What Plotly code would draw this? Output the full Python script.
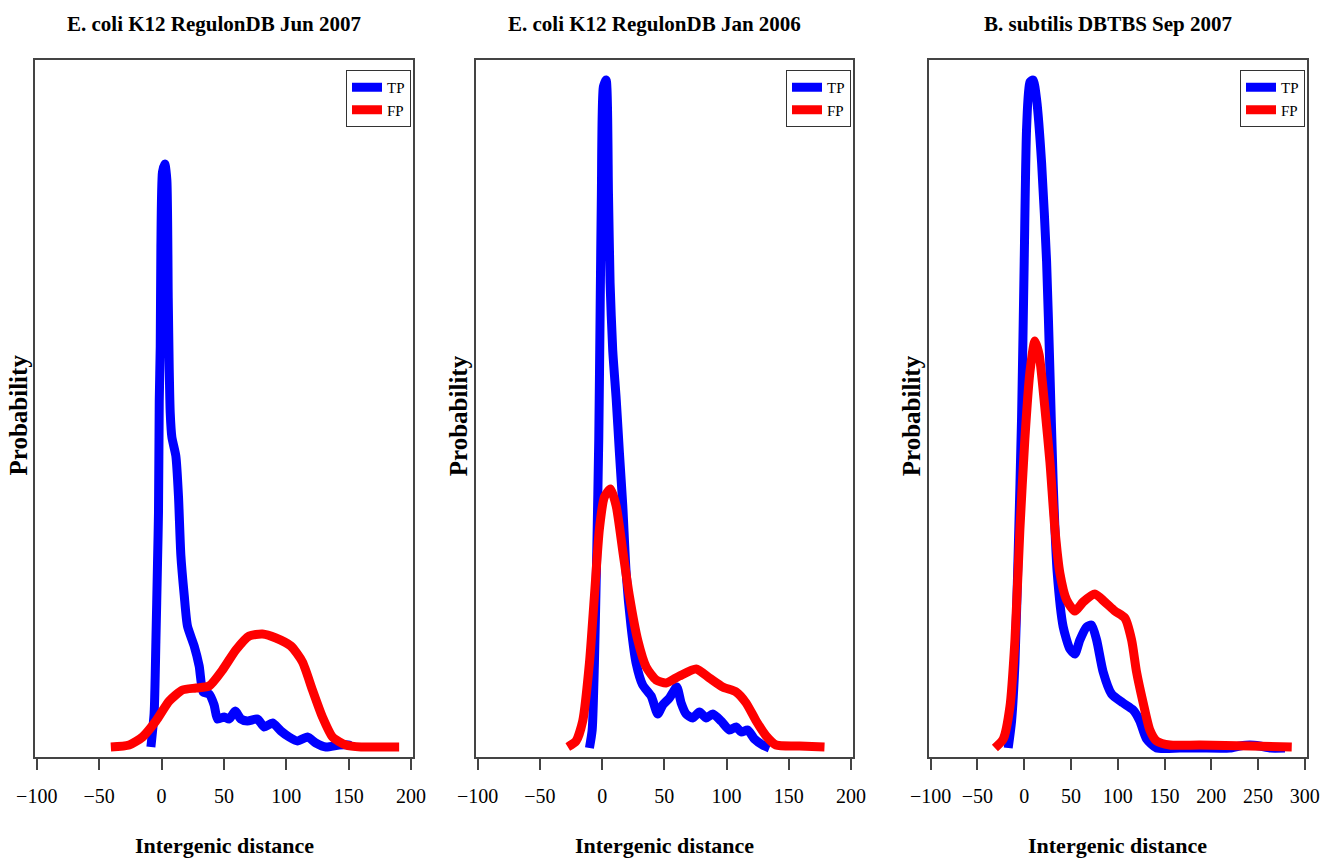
import plotly.graph_objects as go

# ---------------- data ----------------
titles = ["E. coli K12 RegulonDB Jun 2007",
          "E. coli K12 RegulonDB Jan 2006",
          "B. subtilis DBTBS Sep 2007"]
x_label = "Intergenic distance"
y_label = "Probability"
series_names = ["TP", "FP"]

# Panel 1: E. coli K12 RegulonDB Jun 2007
p1_tp_x = [-8.5, -5.9, -4.5, -3.2, -2.4, -1.8, -1.0, -0.5, 0.8, 2.7, 4.3, 5.4, 6.2, 7.0, 8.3,
           11.5, 13.6, 15.5, 18.2, 20.8, 26.2, 30.2, 33.4, 38.2, 42.2, 44.9, 50.3, 54.3, 59.1,
           63.6, 68.9, 76.9, 82.3, 89.0, 95.7, 102.3, 109.0, 117.0, 123.7, 131.8, 142.4, 150.4, 152.0]
p1_tp_y = [0.0001, 0.0035, 0.0106, 0.0185, 0.0236, 0.0347, 0.0402, 0.0501, 0.0576, 0.0584, 0.0568,
           0.0450, 0.0379, 0.0335, 0.0311, 0.0292, 0.0252, 0.0193, 0.0153, 0.0122, 0.0102, 0.0082,
           0.0056, 0.0054, 0.0043, 0.0029, 0.0031, 0.0029, 0.0037, 0.0029, 0.0027, 0.0029, 0.0021,
           0.0025, 0.0017, 0.0011, 0.0007, 0.0011, 0.0005, 0.0001, 0.0003, 0.0003, 0.0000]
p1_fp_x = [-40.6, -25.9, -15.2, -4.5, 6.2, 16.8, 27.6, 38.2, 48.9, 59.6, 70.3, 80.9, 91.7,
           103.7, 113.0, 121.0, 129.0, 137.1, 147.8, 160.0, 175.0, 190.5]
p1_fp_y = [0.0001, 0.0003, 0.0011, 0.0027, 0.0047, 0.0058, 0.0060, 0.0062, 0.0078, 0.0098,
           0.0112, 0.0114, 0.0110, 0.0102, 0.0086, 0.0058, 0.0031, 0.0011, 0.0003, 0.0001,
           0.0001, 0.0001]

# Panel 2: E. coli K12 RegulonDB Jan 2006
p2_tp_x = [-10.2, -8.0, -6.2, -4.3, -2.7, -1.6, -0.6, 1.0, 3.2, 5.1, 6.4, 8.5, 11.3, 13.9, 16.6,
           19.3, 23.3, 27.3, 32.6, 39.4, 44.7, 48.7, 54.1, 60.0, 63.5, 67.5, 72.8, 78.2, 83.6,
           88.9, 95.6, 102.3, 107.7, 111.7, 117.0, 122.4, 129.1, 134.5]
p2_tp_y = [0.0000, 0.0018, 0.0085, 0.0197, 0.0309, 0.0438, 0.0554, 0.0661, 0.0668, 0.0554,
           0.0465, 0.0398, 0.0349, 0.0295, 0.0242, 0.0175, 0.0121, 0.0085, 0.0063, 0.0052,
           0.0034, 0.0043, 0.0050, 0.0061, 0.0045, 0.0034, 0.0030, 0.0036, 0.0030, 0.0034,
           0.0027, 0.0018, 0.0021, 0.0016, 0.0018, 0.0009, 0.0003, 0.0000]
p2_fp_x = [-27.6, -20.9, -15.6, -10.2, -6.2, -2.2, 1.8, 6.7, 11.3, 16.6, 21.9, 28.6, 35.4, 43.4,
           51.4, 62.1, 75.5, 86.2, 96.9, 107.7, 115.7, 123.8, 131.8, 139.8, 158.6, 178.7]
p2_fp_y = [0.0001, 0.0007, 0.0027, 0.0085, 0.0152, 0.0219, 0.0251, 0.0259, 0.0242, 0.0197,
           0.0152, 0.0108, 0.0081, 0.0068, 0.0065, 0.0072, 0.0079, 0.0070, 0.0061, 0.0056,
           0.0045, 0.0027, 0.0012, 0.0003, 0.0002, 0.0001]

# Panel 3: B. subtilis DBTBS Sep 2007
p3_tp_x = [-17.1, -13.5, -9.9, -6.4, -2.8, 0.0, 2.6, 6.1, 9.6, 13.3, 18.6, 23.9, 27.5, 31.0,
           35.3, 41.7, 48.8, 54.2, 59.5, 66.7, 72.0, 77.4, 84.4, 93.4, 105.8, 116.5, 123.6,
           130.8, 141.5, 166.4, 187.7, 219.7, 230.5, 241.2, 251.9, 262.6, 278.7]
p3_tp_y = [0.0000, 0.0027, 0.0085, 0.0197, 0.0331, 0.0487, 0.0621, 0.0666, 0.0668, 0.0648,
           0.0585, 0.0487, 0.0376, 0.0264, 0.0175, 0.0121, 0.0099, 0.0094, 0.0108, 0.0121,
           0.0123, 0.0108, 0.0076, 0.0054, 0.0045, 0.0038, 0.0027, 0.0009, 0.0000, 0.0000,
           0.0000, 0.0000, 0.0002, 0.0003, 0.0002, 0.0000, 0.0000]
p3_fp_x = [-31.3, -22.4, -15.3, -9.9, -4.6, 0.7, 6.1, 11.4, 16.0, 22.1, 27.5, 32.8, 38.1, 45.3,
           54.2, 63.0, 75.5, 86.2, 96.9, 107.6, 114.8, 120.1, 127.2, 134.3, 141.5, 155.7,
           187.7, 241.2, 286.0]
p3_fp_y = [0.0000, 0.0009, 0.0041, 0.0108, 0.0219, 0.0309, 0.0376, 0.0407, 0.0393, 0.0340,
           0.0286, 0.0219, 0.0175, 0.0148, 0.0137, 0.0146, 0.0154, 0.0146, 0.0137, 0.0130,
           0.0108, 0.0076, 0.0045, 0.0018, 0.0007, 0.0003, 0.0003, 0.0002, 0.0001]

x_ranges = [[-101.4, 201.6], [-101.6, 201.6], [-102.1, 302.3]]
x_tick_values = [
    [-100, -50, 0, 50, 100, 150, 200],
    [-100, -50, 0, 50, 100, 150, 200],
    [-100, -50, 0, 50, 100, 150, 200, 250, 300],
]
y_range = [-0.0009, 0.0688]

panels = [
    (p1_tp_x, p1_tp_y, p1_fp_x, p1_fp_y),
    (p2_tp_x, p2_tp_y, p2_fp_x, p2_fp_y),
    (p3_tp_x, p3_tp_y, p3_fp_x, p3_fp_y),
]

# ---------------- layout constants ----------------
W, H = 1320, 860
x_domains = [[35 / W, 413 / W], [475.7 / W, 853 / W], [928.7 / W, 1307 / W]]
y_domain = [1 - 757 / H, 1 - 60 / H]
colors = ["#0000FF", "#FF0000"]
SERIF = "Liberation Serif"

fig = go.Figure()
layout = dict(
    width=W, height=H,
    margin=dict(l=0, r=0, t=0, b=0, autoexpand=False),
    paper_bgcolor="white", plot_bgcolor="white",
    font=dict(family=SERIF, color="black"),
    annotations=[],
)

for i, (tx, ty, fx, fy) in enumerate(panels):
    n = "" if i == 0 else str(i + 1)
    leg = "legend" + n
    for sx, sy, name, col in ((tx, ty, series_names[0], colors[0]),
                              (fx, fy, series_names[1], colors[1])):
        fig.add_trace(go.Scatter(
            x=sx, y=sy, mode="lines", name=name,
            line=dict(color=col, width=9, shape="spline", smoothing=0.6),
            xaxis="x" + n, yaxis="y" + n, legend=leg, hoverinfo="skip",
        ))
    layout["xaxis" + n] = dict(
        domain=x_domains[i], anchor="y" + n, range=x_ranges[i], automargin=False,
        tickmode="array", tickvals=x_tick_values[i],
        ticktext=[str(v).replace("-", "\u2212") for v in x_tick_values[i]],
        ticks="outside", ticklen=11, tickwidth=1.5, ticklabeloverflow="allow",
        tickcolor="#444", showline=True, linecolor="#444", linewidth=2, mirror=True,
        showgrid=False, zeroline=False, ticklabelstandoff=9,
        tickfont=dict(family=SERIF, size=20, color="black"),
    )
    layout["yaxis" + n] = dict(
        domain=y_domain, anchor="x" + n, range=y_range, automargin=False,
        showticklabels=False, ticks="", showline=True, linecolor="#444",
        linewidth=2, mirror=True, showgrid=False, zeroline=False,
    )
    layout[leg] = dict(
        x=x_domains[i][1] - 2 / W, xanchor="right",
        y=1 - 70 / H, yanchor="top",
        bgcolor="white", bordercolor="#333", borderwidth=1,
        font=dict(family=SERIF, size=15, color="black"),
        itemwidth=30, tracegroupgap=0,
    )
    layout["annotations"] += [
        dict(text="<b>" + titles[i] + "</b>", xref="x" + n + " domain", x=0.5, xshift=-10,
             yref="paper", y=1 - 24 / H, yanchor="middle", showarrow=False,
             font=dict(family=SERIF, size=21, color="black")),
        dict(text="<b>" + x_label + "</b>", xref="x" + n + " domain", x=0.5,
             yref="paper", y=1 - 845 / H, yanchor="middle", showarrow=False,
             font=dict(family=SERIF, size=22, color="black")),
        dict(text="<b>" + y_label + "</b>", xref="x" + n + " domain", x=0, xshift=-17,
             yref="y" + n + " domain", y=0.5, yshift=-7, xanchor="center", yanchor="middle",
             textangle=-90, showarrow=False,
             font=dict(family=SERIF, size=25, color="black")),
    ]

fig.update_layout(**layout)
fig.write_html("out.html")
